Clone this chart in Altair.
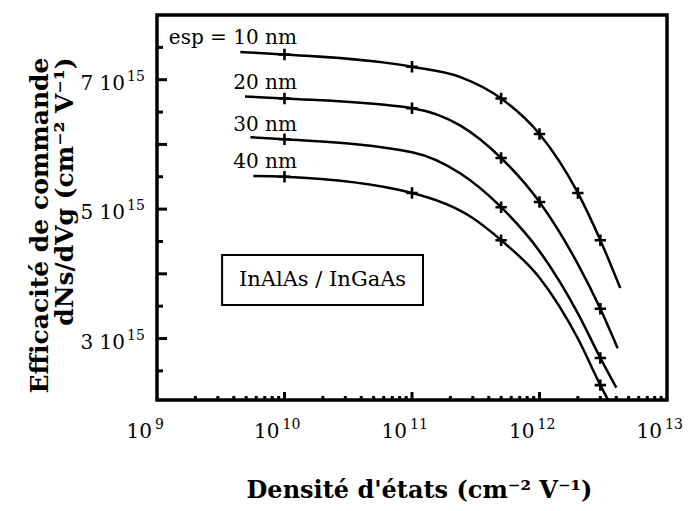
import altair as alt
import pandas as pd

# ---------------- data (x in cm-2 V-1, y in units of 1e15 cm-2 V-1) ----------------
series_names = ["10 nm", "20 nm", "30 nm", "40 nm"]

x_10 = [4.5e9, 1e10, 1e11, 2.4e11, 5e11, 1e12, 2e12, 3e12, 4.3e12]
y_10 = [7.43, 7.39, 7.20, 7.04, 6.71, 6.16, 5.25, 4.52, 3.78]
m_10 = [0, 1, 1, 0, 1, 1, 1, 1, 0]

x_20 = [4.9e9, 1e10, 1e11, 2.4e11, 5e11, 1e12, 2e12, 3e12, 4.1e12]
y_20 = [6.74, 6.71, 6.56, 6.29, 5.79, 5.11, 4.15, 3.46, 2.85]
m_20 = [0, 1, 1, 0, 1, 1, 0, 1, 0]

x_30 = [5.4e9, 1e10, 1e11, 2.4e11, 5e11, 1e12, 2e12, 3e12, 4.0e12]
y_30 = [6.11, 6.08, 5.88, 5.55, 5.03, 4.35, 3.39, 2.70, 2.24]
m_30 = [0, 1, 0, 0, 1, 0, 0, 1, 0]

x_40 = [5.7e9, 1e10, 1e11, 2.85e11, 5e11, 1e12, 2e12, 3e12, 3.45e12]
y_40 = [5.51, 5.50, 5.25, 4.89, 4.52, 3.94, 3.00, 2.28, 2.05]
m_40 = [0, 1, 1, 0, 1, 0, 0, 1, 0]

# tick values and tick label texts
x_major = [1e9, 1e10, 1e11, 1e12, 1e13]
x_label_base = ["10", "10", "10", "10", "10"]
x_label_exp = ["9", "10", "11", "12", "13"]
x_minor = [m * 10 ** k for k in range(9, 13) for m in range(2, 10)]

y_label_vals = [3, 5, 7]
y_label_base = ["3 10", "5 10", "7 10"]
y_label_exp = ["15", "15", "15"]
y_major = [3, 4, 5, 6, 7]
y_minor = [2.5, 3.5, 4.5, 5.5, 6.5, 7.5]

ann_text = ["esp = 10 nm", "20 nm", "30 nm", "40 nm"]
ann_x = [1.25e10, 1.25e10, 1.25e10, 1.25e10]
ann_y = [7.64, 6.95, 6.30, 5.73]

box_text = "InAlAs / InGaAs"
box_x1, box_x2 = 3.24e9, 1.22e11
box_y1, box_y2 = 3.52, 4.29

x_title = "Densité d'états (cm\u207b\u00b2 V\u207b\u00b9)"
y_title = ["Efficacité de commande", "dNs/dVg (cm\u207b\u00b2 V\u207b\u00b9)"]

# ---------------- build tables ----------------
rows = []
for name, xs, ys, ms in zip(series_names, [x_10, x_20, x_30, x_40],
                            [y_10, y_20, y_30, y_40], [m_10, m_20, m_30, m_40]):
    for i, (xv, yv, mv) in enumerate(zip(xs, ys, ms)):
        rows.append({"series": name, "x": xv, "y": yv, "marked": mv, "order": i})
df = pd.DataFrame(rows)

W, H = 510, 385
FONT = "DejaVu Serif"

xscale = alt.Scale(type="log", domain=[1e9, 1e13], nice=False)
yscale = alt.Scale(domain=[2.05, 8.0], nice=False, zero=False)

x_axis = alt.Axis(values=x_major, labels=False, ticks=False, domain=False, grid=False,
                  title=x_title, titleFont=FONT, titleFontSize=24,
                  titleFontWeight="bold", titleColor="black",
                  titleX=262, titleY=90, titleAlign="center", titleBaseline="middle")
y_axis = alt.Axis(values=y_label_vals, labels=False, ticks=False, domain=False,
                  grid=False, title=y_title, titleFont=FONT, titleFontSize=25,
                  titleFontWeight="bold", titleColor="black", titleLineHeight=25,
                  titleX=-118, titleY=42, titleAlign="right", titleBaseline="middle",
                  titleAngle=270)


def X(field="x:Q"):
    return alt.X(field, scale=xscale, axis=x_axis)


def Y(field="y:Q"):
    return alt.Y(field, scale=yscale, axis=y_axis)


base = alt.Chart(df)

lines = base.mark_line(color="black", strokeWidth=2.5, interpolate="monotone",
                       clip=True).encode(
    x=X(), y=Y(), detail="series:N", order="order:Q")

points = base.transform_filter("datum.marked == 1").mark_point(
    shape="M-1,0L1,0M0,-1L0,1", size=130, strokeWidth=2.6, color="black",
    filled=False, opacity=1).encode(x=X(), y=Y())

ytick_major = alt.Chart(pd.DataFrame({"y": y_major})).mark_rule(
    color="black", strokeWidth=3).encode(y=Y(), x=alt.value(0), x2=alt.value(10))
ytick_minor = alt.Chart(pd.DataFrame({"y": y_minor})).mark_rule(
    color="black", strokeWidth=3).encode(y=Y(), x=alt.value(0), x2=alt.value(6))

xtick_major = alt.Chart(pd.DataFrame({"x": x_major[1:-1]})).mark_rule(
    color="black", strokeWidth=3).encode(x=X(), y=alt.value(H), y2=alt.value(H - 8))
xtick_minor = alt.Chart(pd.DataFrame({"x": x_minor})).mark_rule(
    color="black", strokeWidth=3).encode(x=X(), y=alt.value(H), y2=alt.value(H - 4))

xlab_df = pd.DataFrame({"x": x_major, "b": x_label_base, "e": x_label_exp})
xlab_base = alt.Chart(xlab_df).mark_text(
    align="right", baseline="middle", dx=-5, font=FONT, fontSize=20,
    color="black").encode(x=X(), y=alt.value(H + 32), text="b:N")
xlab_exp = alt.Chart(xlab_df).mark_text(
    align="left", baseline="middle", dx=-2, font=FONT, fontSize=14,
    color="black").encode(x=X(), y=alt.value(H + 25), text="e:N")

ylab_df = pd.DataFrame({"y": y_label_vals, "b": y_label_base, "e": y_label_exp})
ylab_base = alt.Chart(ylab_df).mark_text(
    align="right", baseline="middle", dy=4, font=FONT, fontSize=20,
    color="black").encode(y=Y(), x=alt.value(-32), text="b:N")
ylab_exp = alt.Chart(ylab_df).mark_text(
    align="left", baseline="middle", dy=-3, font=FONT, fontSize=14,
    color="black").encode(y=Y(), x=alt.value(-30), text="e:N")

ann = alt.Chart(pd.DataFrame({"t": ann_text, "x": ann_x, "y": ann_y})).mark_text(
    align="right", baseline="middle", font=FONT, fontSize=20, color="black").encode(
    x=X(), y=Y(), text="t:N")

box = alt.Chart(pd.DataFrame({"x": [box_x1], "x2": [box_x2], "y": [box_y1],
                              "y2": [box_y2]})).mark_rect(
    fill="white", stroke="black", strokeWidth=2).encode(
    x=X(), x2="x2:Q", y=Y(), y2="y2:Q")

box_label = alt.Chart(pd.DataFrame({"t": [box_text],
                                    "x": [(box_x1 * box_x2) ** 0.5],
                                    "y": [(box_y1 + box_y2) / 2]})).mark_text(
    align="center", baseline="middle", font=FONT, fontSize=21, color="black").encode(
    x=X(), y=Y(), text="t:N")

chart = alt.layer(
    lines, box, box_label, points, ytick_major, ytick_minor, xtick_major, xtick_minor,
    ann, xlab_base, xlab_exp, ylab_base, ylab_exp
).properties(
    width=W, height=H,
    background="white",
    padding={"left": 149, "top": 7, "right": 17, "bottom": 103},
    autosize=alt.AutoSizeParams(type="none"),
).configure_view(
    stroke="black", strokeWidth=3.5
)

chart.save("out.html", embed_options={"renderer": "svg", "actions": False})
